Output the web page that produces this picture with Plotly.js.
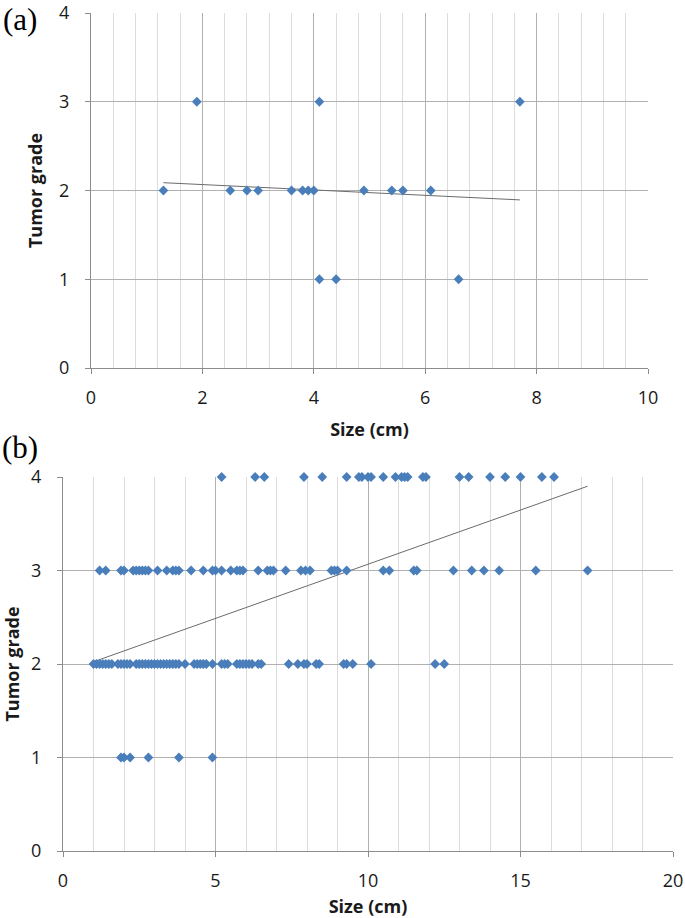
<!DOCTYPE html>
<html>
<head>
<meta charset="utf-8">
<script src="https://cdn.plot.ly/plotly-3.0.1.min.js"></script>
<style>html,body{margin:0;padding:0;background:#fff;}#chart{width:685px;height:918px;}</style>
</head>
<body>
<div id="chart"></div>
<script>
// Panel (a) data
const sizeA  = [1.9, 4.1, 7.7, 1.3, 2.5, 2.8, 3.0, 3.6, 3.8, 3.9, 4.0, 4.9, 5.4, 5.6, 6.1, 4.1, 4.4, 6.6];
const gradeA = [3, 3, 3, 2, 2, 2, 2, 2, 2, 2, 2, 2, 2, 2, 2, 1, 1, 1];

// Panel (b) data, by grade
const sizeB4 = [5.2, 6.3, 6.6, 7.9, 8.5, 9.3, 9.7, 9.8, 10.0, 10.1, 10.5, 10.9, 11.1, 11.2, 11.3, 11.8, 11.9, 13.0, 13.3, 14.0, 14.5, 15.0, 15.7, 16.1];
const sizeB3 = [1.2, 1.4, 1.9, 2.0, 2.3, 2.4, 2.5, 2.6, 2.7, 2.8, 3.1, 3.4, 3.6, 3.7, 3.8, 4.2, 4.6, 4.9, 5.0, 5.2, 5.5, 5.7, 5.8, 5.9, 6.4, 6.7, 6.8, 6.9, 7.3, 7.8, 7.95, 8.1, 8.8, 8.9, 9.0, 9.3, 10.5, 10.7, 11.5, 11.6, 12.8, 13.4, 13.8, 14.3, 15.5, 17.2];
const sizeB2 = [1.0, 1.1, 1.2, 1.3, 1.4, 1.5, 1.6, 1.8, 1.9, 2.0, 2.1, 2.2, 2.4, 2.5, 2.6, 2.7, 2.8, 2.9, 3.0, 3.1, 3.2, 3.3, 3.4, 3.5, 3.6, 3.7, 3.8, 4.0, 4.3, 4.4, 4.5, 4.6, 4.7, 4.9, 5.2, 5.3, 5.4, 5.7, 5.8, 5.9, 6.0, 6.1, 6.2, 6.4, 6.5, 7.4, 7.7, 7.9, 8.0, 8.3, 8.4, 9.2, 9.3, 9.5, 10.1, 12.2, 12.5];
const sizeB1 = [1.9, 2.0, 2.2, 2.8, 3.8, 4.9];
const gradeLevelsB = [4, 3, 2, 1];

// Tick labels
const yTicks = [0, 1, 2, 3, 4];
const xTicksA = [0, 2, 4, 6, 8, 10];
const xTicksB = [0, 5, 10, 15, 20];

const panelLabels = ['(a)', '(b)'];
const xTitle = 'Size (cm)';
const yTitle = 'Tumor grade';

// Build panel (b) combined arrays
const groupsB = [sizeB4, sizeB3, sizeB2, sizeB1];
const sizeB = [], gradeB = [];
groupsB.forEach((g, i) => g.forEach(v => { sizeB.push(v); gradeB.push(gradeLevelsB[i]); }));

// Least-squares linear trend over the data range (as Excel's linear trendline)
function trend(xs, ys) {
  const n = xs.length;
  const mx = xs.reduce((a, b) => a + b, 0) / n;
  const my = ys.reduce((a, b) => a + b, 0) / n;
  let sxy = 0, sxx = 0;
  for (let i = 0; i < n; i++) { sxy += (xs[i] - mx) * (ys[i] - my); sxx += (xs[i] - mx) ** 2; }
  const m = sxy / sxx, c = my - m * mx;
  const x0 = Math.min(...xs), x1 = Math.max(...xs);
  return { x: [x0, x1], y: [m * x0 + c, m * x1 + c] };
}
const tA = trend(sizeA, gradeA);
const tB = trend(sizeB, gradeB);

const markerStyle = { symbol: 'diamond', size: 7.5, color: '#4A7EBB', line: { width: 0 } };
const lineStyle = { color: '#6b6b6b', width: 1 };

const data = [
  { x: tA.x, y: tA.y, mode: 'lines', line: lineStyle, xaxis: 'x', yaxis: 'y', hoverinfo: 'skip' },
  { x: sizeA, y: gradeA, mode: 'markers', marker: markerStyle, xaxis: 'x', yaxis: 'y', cliponaxis: false },
  { x: tB.x, y: tB.y, mode: 'lines', line: lineStyle, xaxis: 'x2', yaxis: 'y2', hoverinfo: 'skip' },
  { x: sizeB, y: gradeB, mode: 'markers', marker: markerStyle, xaxis: 'x2', yaxis: 'y2', cliponaxis: false }
];

const W = 685, H = 918;
const tickFont = { family: 'Open Sans, Lato, sans-serif', size: 18, color: '#1a1a1a' };
const titleFont = { family: 'Open Sans, Lato, sans-serif', size: 18, color: '#1a1a1a', weight: 'bold' };
const gridMajor = '#b0b0b0', gridMinor = '#dcdcdc', axisCol = '#8c8c8c';

function xAxis(domainPx, range, ticks, minorDtick, anchor) {
  return {
    domain: [domainPx[0] / W, domainPx[1] / W], range: range, anchor: anchor,
    tickmode: 'array', tickvals: ticks, ticktext: ticks.map(String),
    showgrid: true, gridcolor: gridMajor, gridwidth: 1,
    minor: { dtick: minorDtick, tick0: 0, showgrid: true, gridcolor: gridMinor, gridwidth: 1, ticks: '' },
    showline: true, linecolor: axisCol, linewidth: 1, zeroline: false,
    ticks: 'outside', ticklen: 5, tickcolor: axisCol, tickfont: tickFont, ticklabelstandoff: 8,
    ticklabeloverflow: 'allow',
    title: { text: xTitle, font: titleFont, standoff: 15 }, fixedrange: true
  };
}
function yAxis(domainPx, anchor) {
  return {
    domain: [(H - domainPx[1]) / H, (H - domainPx[0]) / H], range: [0, 4], anchor: anchor,
    tickmode: 'array', tickvals: yTicks, ticktext: yTicks.map(String),
    showgrid: true, gridcolor: gridMajor, gridwidth: 1,
    showline: true, linecolor: axisCol, linewidth: 1, zeroline: false,
    ticks: 'outside', ticklen: 5, tickcolor: axisCol, tickfont: tickFont, ticklabelstandoff: 12,
    ticklabeloverflow: 'allow',
    title: { text: yTitle, font: titleFont, standoff: 11 }, fixedrange: true
  };
}

const layout = {
  width: W, height: H, margin: { l: 0, r: 0, t: 0, b: 0 },
  paper_bgcolor: '#fff', plot_bgcolor: '#fff', showlegend: false,
  xaxis: xAxis([91, 648], [0, 10], xTicksA, 0.4, 'y'),
  yaxis: yAxis([13, 368], 'x'),
  xaxis2: xAxis([63, 673], [0, 20], xTicksB, 1, 'y2'),
  yaxis2: yAxis([477, 851], 'x2'),
  annotations: [
    { text: panelLabels[0], xref: 'paper', yref: 'paper', x: 20 / W, y: 1 - 20 / H, xanchor: 'center', yanchor: 'middle', showarrow: false, font: { family: 'Liberation Serif, DejaVu Serif, serif', size: 31, color: '#000' } },
    { text: panelLabels[1], xref: 'paper', yref: 'paper', x: 20 / W, y: 1 - 447 / H, xanchor: 'center', yanchor: 'middle', showarrow: false, font: { family: 'Liberation Serif, DejaVu Serif, serif', size: 31, color: '#000' } }
  ]
};

Plotly.newPlot('chart', data, layout, { displayModeBar: false, staticPlot: true });
</script>
</body>
</html>
